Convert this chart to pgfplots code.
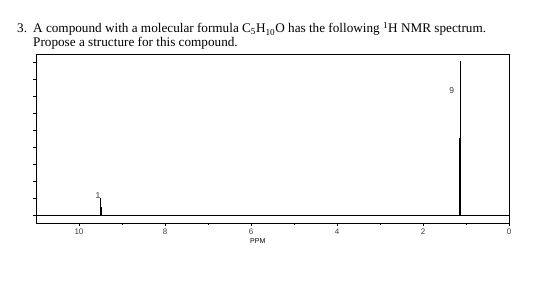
\documentclass[border=0pt]{standalone}
\usepackage{fontspec}
\setmainfont{Liberation Serif}
\newfontfamily\arial{Liberation Sans}
\usepackage{pgfplots}
\pgfplotsset{compat=1.18}
\begin{document}
\begin{tikzpicture}[x=1pt,y=1pt]
\path[use as bounding box] (0,0) rectangle (560,281);
\node[anchor=base west,font=\fontsize{13.2}{15}\selectfont,inner sep=0pt] at (17,248) {3.};
\node[anchor=base west,font=\fontsize{13.2}{15}\selectfont,inner sep=0pt] at (33,248) {A compound with a molecular formula C\textsubscript{5}H\textsubscript{10}O has the following \textsuperscript{1}H NMR spectrum.};
\node[anchor=base west,font=\fontsize{13.2}{15}\selectfont,inner sep=0pt] at (33,234) {Propose a structure for this compound.};
\begin{axis}[
  at={(36pt,58pt)}, anchor=south west,
  scale only axis, width=473pt, height=169pt,
  x dir=reverse, xmin=0, xmax=11, ymin=-0.47, ymax=9.47,
  xtick={0,2,...,10}, minor xtick={1,3,...,9},
  ytick={0,1,...,9}, yticklabels={},
  xtick pos=bottom, ytick pos=left,
  tick align=outside, major tick length=3pt, minor tick length=2pt,
  tick style={black, line width=0.6pt},
  axis line style={line width=0.8pt},
  /pgf/number format/assume math mode=true,
  ticklabel style={font=\arial\fontsize{8}{9}\selectfont, text=black!75},
  xticklabel style={yshift=1pt},
  xlabel={PPM}, xlabel style={font=\arial\fontsize{7}{8}\selectfont, at={(axis description cs:0.469,0)}, anchor=north, yshift=-12pt},
  clip=false,
]
\addplot[black, line width=0.8pt] coordinates {(0,0) (11,0)};
\addplot[black, line width=0.7pt] coordinates {(1.13,0) (1.13,9.08)};
\addplot[black, line width=2pt] coordinates {(1.13,0) (1.13,4.5)};
\addplot[black, line width=0.6pt] coordinates {(9.5,0) (9.5,1.0)};
\addplot[black, line width=1.5pt] coordinates {(9.48,0) (9.48,0.47)};
\node[font=\arial\fontsize{8.5}{9}\selectfont, text=black!80] at (axis cs:1.33,7.3) {9};
\node[font=\arial\fontsize{8.5}{9}\selectfont, text=black!80] at (axis cs:9.56,1.15) {1};
\end{axis}
\end{tikzpicture}
\end{document}
